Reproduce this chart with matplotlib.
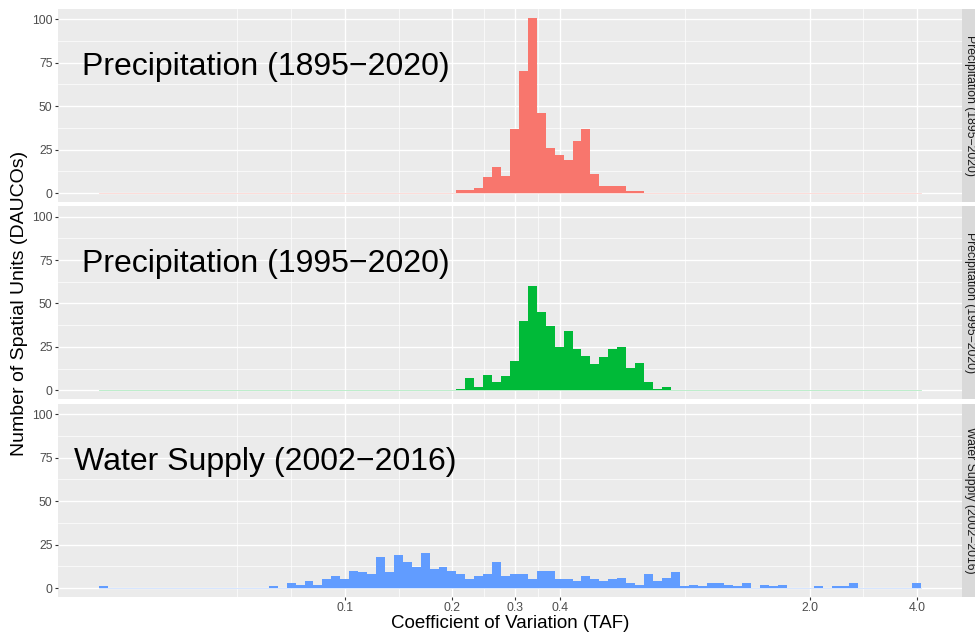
import matplotlib.pyplot as plt
import numpy as np
from matplotlib.patches import Rectangle

plt.rcParams['font.family'] = ['Liberation Sans', 'DejaVu Sans']

# histogram bins, log10 scale, binwidth 0.025 shared by all facets
LOG_START = -1.6875
BIN_WIDTH = 0.025
N_BINS = 92

panel_names = ["Precipitation (1895\u22122020)",
               "Precipitation (1995\u22122020)",
               "Water Supply (2002\u22122016)"]
panel_colors = ["#F8766D", "#00BA38", "#619CFF"]

# counts; *_start = index of first bin of the list
precip_long_start = 40
precip_long = [2, 2, 3, 9, 15, 10, 37, 70, 101, 46, 26, 22, 19, 30, 37, 11, 4, 4, 4, 1, 1]

precip_short_start = 40
precip_short = [1, 7, 2, 9, 5, 8, 17, 40, 60, 45, 37, 25, 34, 24, 20, 15, 19, 24,
                25, 13, 16, 5, 1, 2]

water_start = 0
water_supply = [1, 0, 0, 0, 0, 0, 0, 0, 0, 0, 0, 0, 0, 0, 0, 0, 0, 0, 0, 1,
                0, 3, 2, 4, 2, 5, 7, 5, 10, 9, 8, 18, 9, 19, 15, 12, 20, 11, 12, 10,
                8, 5, 7, 8, 15, 7, 8, 8, 5, 10, 10, 5, 5, 4, 7, 5, 4, 5, 6, 3,
                2, 8, 4, 6, 9, 1, 2, 1, 3, 3, 2, 1, 3, 0, 2, 1, 2, 0, 0, 0,
                1, 0, 1, 1, 3, 0, 0, 0, 0, 0, 0, 3]

x_ticks = [0.1, 0.2, 0.3, 0.4, 2.0, 4.0]
x_tick_labels = ["0.1", "0.2", "0.3", "0.4", "2.0", "4.0"]
x_minor = [0.05, 0.0707, 0.1414, 0.2449, 0.3464, 0.894, 2.828]
y_ticks = [0, 25, 50, 75, 100]
y_minor = [12.5, 37.5, 62.5, 87.5]

edges = 10 ** (LOG_START + BIN_WIDTH * np.arange(N_BINS + 1))
log_lo, log_hi = LOG_START, LOG_START + BIN_WIDTH * N_BINS
pad = 0.05 * (log_hi - log_lo)
xlim = (10 ** (log_lo - pad), 10 ** (log_hi + pad))
ymax = max(max(precip_long), max(precip_short), max(water_supply))
ylim = (-0.05 * ymax, ymax * 1.05)

series = [(precip_long_start, precip_long),
          (precip_short_start, precip_short),
          (water_start, water_supply)]

W, H = 975, 634
fig = plt.figure(figsize=(W / 100, H / 100), dpi=100)

left, right = 58, 962
panel_tops = [8.8, 206.1, 403.8]
panel_h = 193.0

for i, (start, counts) in enumerate(series):
    full = np.zeros(N_BINS)
    full[start:start + len(counts)] = counts
    top = panel_tops[i]
    ax = fig.add_axes([left / W, 1 - (top + panel_h) / H, (right - left) / W, panel_h / H])
    ax.set_facecolor("#EBEBEB")
    ax.set_xscale("log")
    ax.set_axisbelow(True)
    ax.stairs(full, edges, fill=True, color=panel_colors[i], linewidth=0, zorder=2)
    ax.plot([edges[0], edges[-1]], [0, 0], color=panel_colors[i], lw=0.6, alpha=0.3, zorder=2)

    ax.text(0.06, 72.5, panel_names[i], fontsize=23, ha="center", va="center", color="black", zorder=3)

    ax.set_xlim(*xlim)
    ax.set_ylim(*ylim)
    ax.set_xticks(x_ticks)
    ax.set_xticklabels(x_tick_labels)
    ax.set_xticks(x_minor, minor=True)
    ax.set_yticks(y_ticks)
    ax.set_yticks(y_minor, minor=True)
    ax.grid(which="major", color="white", lw=1.0)
    ax.grid(which="minor", color="white", lw=0.5)
    ax.tick_params(which="minor", length=0, labelbottom=False)
    ax.tick_params(which="major", length=2.5, width=0.8, color="#333333",
                   labelsize=8.8, labelcolor="#4D4D4D", pad=1.5)
    if i < 2:
        ax.tick_params(axis="x", which="both", bottom=False, labelbottom=False)
    for s in ax.spines.values():
        s.set_visible(False)

    # facet strip on the right (partly cut by the figure edge, as in the original)
    fig.add_artist(Rectangle((right / W, 1 - (top + panel_h) / H), 17 / W, panel_h / H,
                             transform=fig.transFigure, facecolor="#D9D9D9",
                             edgecolor="none"))
    fig.text((right + 8.5) / W, 1 - (top + panel_h / 2) / H, panel_names[i],
             rotation=270, fontsize=8.8, color="#1A1A1A", ha="center", va="center")

fig.text((left + right) / 2 / W, 1 - 624 / H, "Coefficient of Variation (TAF)",
         fontsize=13.5, ha="center", va="center")
fig.text(20 / W, 1 - 303 / H, "Number of Spatial Units (DAUCOs)",
         fontsize=14, rotation=90, ha="center", va="center")

fig.savefig("out.png", dpi=100)
